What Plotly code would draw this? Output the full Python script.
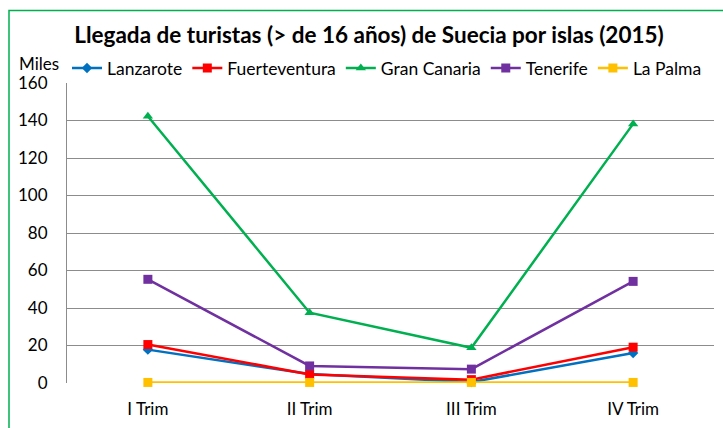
import plotly.graph_objects as go

categories = ["I Trim", "II Trim", "III Trim", "IV Trim"]
lanzarote = [17.8, 4.8, 0.5, 16.0]
fuerteventura = [20.5, 4.6, 1.8, 19.1]
gran_canaria = [142.3, 37.5, 18.8, 138.2]
tenerife = [55.3, 9.1, 7.4, 54.2]
la_palma = [0.3, 0.3, 0.3, 0.3]
y_ticks = [0, 20, 40, 60, 80, 100, 120, 140, 160]

series = [
    ("Lanzarote", lanzarote, "#0070C0", "diamond", 8),
    ("Fuerteventura", fuerteventura, "#FF0000", "square", 9),
    ("Gran Canaria", gran_canaria, "#00B050", "triangle-up", 9),
    ("Tenerife", tenerife, "#7030A0", "square", 9),
    ("La Palma", la_palma, "#FFC000", "square", 9),
]

FONT = "Lato"
W, H = 723, 428
L, R, T, B = 67, 9, 83, 41
pw, ph = W - L - R, H - T - B

def px_x(px):
    return (px - L) / pw

def px_y(py):
    return (H - B - py) / ph

fig = go.Figure()
for name, vals, color, sym, size in series:
    fig.add_trace(go.Scatter(
        x=categories, y=vals, name=name, mode="lines+markers",
        line=dict(color=color, width=2.5),
        marker=dict(symbol=sym, size=size, color=color),
        cliponaxis=False,
    ))

fig.update_layout(
    width=W, height=H,
    margin=dict(l=L, r=R, t=T, b=B),
    paper_bgcolor="white", plot_bgcolor="white",
    font=dict(family=FONT, size=17, color="black"),
    title=dict(text="<b>Llegada de turistas (> de 16 años) de Suecia por islas (2015)</b>",
               xref="paper", x=px_x(369), xanchor="center",
               yref="container", y=1 - 35 / H, yanchor="middle",
               font=dict(family=FONT, size=22.5, color="black")),
    legend=dict(orientation="h", x=px_x(67), xanchor="left", y=px_y(68), yanchor="middle",
                font=dict(family=FONT, size=17.5), itemwidth=30, tracegroupgap=0,
                bgcolor="rgba(0,0,0,0)"),
    showlegend=True,
)
fig.update_xaxes(range=[-0.5, 3.5], showgrid=False, showline=False, ticks="",
                 tickfont=dict(size=17), ticklabelstandoff=14)
fig.update_yaxes(range=[0, 160], tickvals=y_ticks, showgrid=True, gridcolor="#8c8c8c",
                 gridwidth=1, showline=True, linecolor="#8c8c8c", linewidth=1,
                 zeroline=False, ticks="", tickfont=dict(size=17), ticklabelstandoff=15)
fig.add_annotation(text="Miles", xref="paper", yref="paper",
                   x=px_x(39), y=px_y(63), xanchor="center", yanchor="middle",
                   showarrow=False, font=dict(family=FONT, size=17))
fig.add_shape(type="rect", xref="paper", yref="paper",
              x0=px_x(9), x1=px_x(760), y0=px_y(470), y1=px_y(9.5),
              line=dict(color="#00B050", width=1.5), fillcolor="rgba(0,0,0,0)", layer="below")
fig.write_html("out.html", config={"displayModeBar": False},
               post_script="document.body.style.margin='0';")
